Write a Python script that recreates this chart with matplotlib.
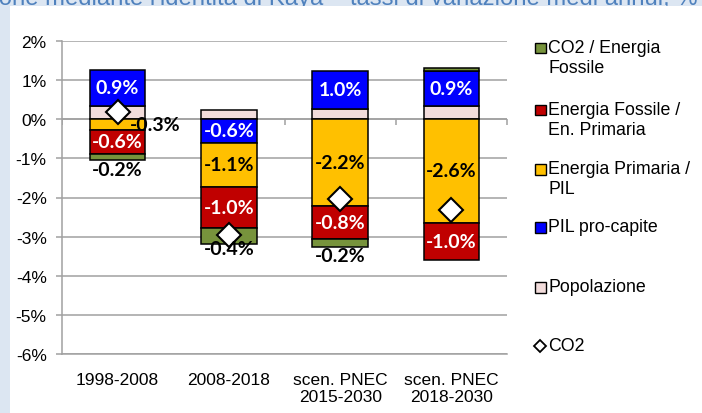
import matplotlib
matplotlib.use('Agg')
import matplotlib.pyplot as plt
import numpy as np
from matplotlib.patches import Rectangle
from matplotlib.lines import Line2D

# dati (tassi di variazione medi annui, %)
categories = ['1998-2008', '2008-2018', 'scen. PNEC\n2015-2030', 'scen. PNEC\n2018-2030']
popolazione = [0.35, 0.24, 0.26, 0.34]
pil_pro_capite = [0.90, -0.60, 0.98, 0.90]
energia_primaria_pil = [-0.27, -1.13, -2.22, -2.64]
fossile_primaria = [-0.62, -1.04, -0.84, -0.96]
co2_fossile = [-0.16, -0.42, -0.20, 0.08]
co2 = [0.18, -2.97, -2.05, -2.31]

W, H = 702, 414
GRAY = '#a0a0a0'
plt.rcParams['font.family'] = ['Liberation Sans', 'DejaVu Sans']


def fx(x):
    return x / W


def fy(y):
    return 1 - y / H


fig = plt.figure(figsize=(W / 100, H / 100), dpi=100)
fig.patch.set_facecolor('#dce6f2')

# titolo tagliato in alto
fig.text(fx(698), fy(5.5), "Decomposizione mediante l'identità di Kaya – tassi di variazione medi annui, %",
         ha='right', va='baseline', fontsize=17.2, color='#4f81bd', zorder=-3)
fig.patches.append(Rectangle((fx(10), 0), 1, fy(7), transform=fig.transFigure,
                             facecolor='white', edgecolor='none', zorder=-2))

ax = fig.add_axes([fx(62), 59 / H, 445 / W, 313 / H])
ax.set_facecolor('none')

x = np.arange(len(categories))
width = 0.5

# serie in ordine di impilamento (stile Excel: positivi e negativi separati)
series = [
    ('Popolazione', popolazione, '#f2dcdb', None),
    ('PIL pro-capite', pil_pro_capite, '#0000ff', 'white'),
    ('Energia Primaria /\nPIL', energia_primaria_pil, '#ffc000', 'black'),
    ('Energia Fossile /\nEn. Primaria', fossile_primaria, '#c00000', 'white'),
    ('CO2 / Energia\nFossile', co2_fossile, '#77933c', 'black'),
]

pos_base = np.zeros(len(x))
neg_base = np.zeros(len(x))
for name, vals, color, lab_col in series:
    vals = np.array(vals)
    bottoms = np.where(vals >= 0, pos_base, neg_base)
    ax.bar(x, vals, width, bottom=bottoms, color=color, edgecolor='black',
           linewidth=1.1, zorder=3)
    if lab_col is not None:
        for i, v in enumerate(vals):
            if name.startswith('CO2') and v > 0:
                continue
            dx, dy = 0, 0
            if name.startswith('CO2'):
                dy = -9
            if name.startswith('Energia Primaria') and i == 0:
                dx = 27
            ax.annotate(f'{v:.1f}%', (x[i], bottoms[i] + v / 2), xytext=(dx, dy),
                        textcoords='offset points', ha='center', va='center',
                        fontsize=14, fontweight='bold', color=lab_col,
                        family=['Lato', 'DejaVu Sans'], zorder=6)
    pos_base = pos_base + np.where(vals >= 0, vals, 0)
    neg_base = neg_base + np.where(vals < 0, vals, 0)

ax.plot(x, co2, ls='none', marker='D', ms=12.5, markerfacecolor='white',
        markeredgecolor='black', markeredgewidth=1.5, zorder=5)

# asse delle categorie a 0
ax.axhline(0, color=GRAY, lw=1.1, zorder=2)
ax.plot(np.arange(-0.5, 4, 1), np.zeros(5), ls='none', marker=3, ms=4,
        color=GRAY, markeredgewidth=1.1, zorder=2)

ax.set_xlim(-0.5, 3.5)
ax.set_ylim(-6, 2)
ax.set_yticks(np.arange(-6, 3, 1))
ax.set_yticklabels([f'{v}%' for v in range(-6, 3)])
ax.set_xticks(x)
ax.set_xticklabels(categories)
ax.tick_params(axis='x', length=0, pad=13, labelsize=12.5)
ax.tick_params(axis='y', length=4, color=GRAY, width=1.1, pad=7, labelsize=12.5)
ax.yaxis.grid(True, color=GRAY, lw=1.1)
ax.set_axisbelow(True)
for s in ['top', 'right']:
    ax.spines[s].set_visible(False)
for s in ['left', 'bottom']:
    ax.spines[s].set_color(GRAY)
    ax.spines[s].set_linewidth(1.1)

# legenda manuale
legend_rows = [49, 111, 170.5, 228.5, 288.5, 347]
sq = 10.5
for (name, vals, color, _), yy in zip(series[::-1], legend_rows):
    fig.patches.append(Rectangle((fx(535), fy(yy + sq / 2)), sq / W, sq / H,
                                 transform=fig.transFigure, facecolor=color,
                                 edgecolor='black', lw=1.0))
    fig.text(fx(548), fy(yy - 9), name, ha='left', va='top', fontsize=12.8,
             linespacing=1.2, transform=fig.transFigure)
fig.lines.append(Line2D([fx(540)], [fy(legend_rows[-1])], transform=fig.transFigure,
                        marker='D', ms=6.5, markerfacecolor='white',
                        markeredgecolor='black', markeredgewidth=1.3, ls='none'))
fig.text(fx(548), fy(legend_rows[-1]), 'CO2', ha='left', va='center', fontsize=12.8)

fig.savefig('out.png', dpi=100)
